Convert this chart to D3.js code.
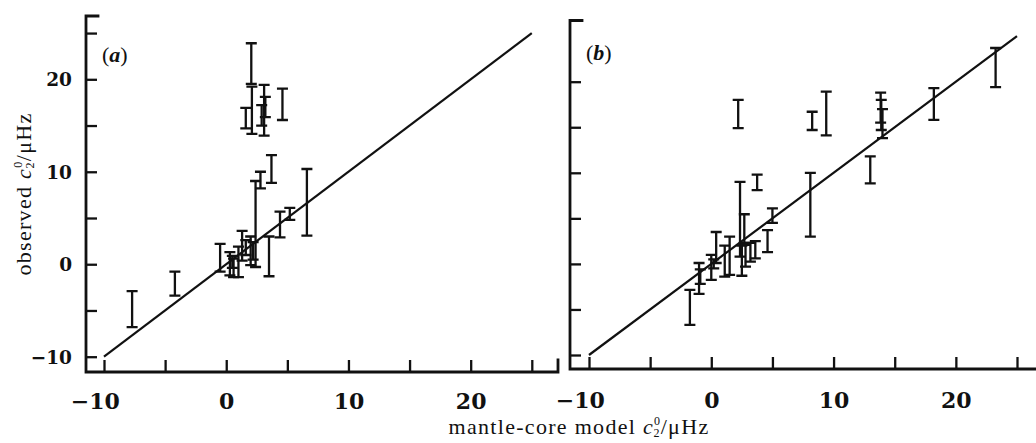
<!DOCTYPE html>
<html>
<head>
<meta charset="utf-8">
<script src="https://cdn.jsdelivr.net/npm/d3@7"></script>
<style>
  html, body { margin: 0; padding: 0; background: #fff; }
  svg { display: block; }
</style>
</head>
<body>
<svg id="chart" width="1036" height="443"></svg>
<script>
// ---------------- data ----------------
// error bars: [model c (x), observed low, observed high]
const panelABars = [
  [-7.7, -6.8, -2.9],
  [-4.2, -3.4, -0.8],
  [-0.5, -0.8, 2.2],
  [0.3, -1.2, 1.3],
  [0.5, -0.4, 0.9],
  [0.6, -1.4, 0.6],
  [1.0, -1.4, 1.9],
  [1.3, 0.4, 3.6],
  [1.6, 1.0, 2.6],
  [2.0, -0.1, 3.0],
  [2.2, 0.5, 2.4],
  [2.4, -0.3, 9.0],
  [2.8, 8.2, 10.0],
  [3.7, 8.8, 11.8],
  [3.5, -1.3, 3.0],
  [4.4, 2.9, 5.7],
  [5.2, 4.8, 6.1],
  [6.6, 3.1, 10.3],
  [2.05, 19.5, 23.9],
  [2.1, 14.1, 19.2],
  [1.6, 14.7, 16.9],
  [3.1, 13.9, 19.4],
  [3.2, 15.9, 18.1],
  [2.9, 15.0, 17.2],
  [4.6, 15.6, 19.0]
];
const panelBBars = [
  [-1.75, -6.7, -2.85],
  [-1.0, -3.3, 0.1],
  [-0.9, -2.2, -0.6],
  [0.0, -1.75, 1.0],
  [0.4, 0.1, 3.5],
  [0.2, -0.5, 0.5],
  [1.1, -1.4, 2.0],
  [1.5, -1.2, 3.0],
  [2.2, 14.9, 18.0],
  [2.35, 0.8, 9.0],
  [2.7, 2.3, 5.45],
  [2.5, -1.3, 2.0],
  [2.8, -0.3, 2.1],
  [3.2, 0.25, 2.3],
  [3.6, 0.6, 2.5],
  [3.75, 8.1, 9.8],
  [4.6, 1.3, 3.7],
  [5.0, 4.5, 6.1],
  [8.1, 3.0, 10.0],
  [8.25, 14.7, 16.7],
  [9.4, 14.1, 18.9],
  [13.0, 8.85, 11.8],
  [13.85, 15.5, 18.8],
  [13.9, 14.7, 18.0],
  [14.0, 13.8, 17.0],
  [18.2, 15.8, 19.3],
  [23.25, 19.4, 23.7]
];
// line of equality (observed = model)
const fitLine = [[-10, -10], [25, 25]];

const xTicks = [-10, -5, 0, 5, 10, 15, 20, 25];
const xTickLabels = [-10, 0, 10, 20];
const yTicksA = [-10, -5, 0, 5, 10, 15, 20, 25];
const yTicksB = [-10, -5, 0, 5, 10, 15, 20];
const yTickLabels = [-10, 0, 10, 20];
const panelNames = ["a", "b"];
const yTitle = "observed";
const xTitle = "mantle-core model";

// ---------------- layout ----------------
const svg = d3.select("#chart");
const ink = "#111";

const panels = [
  { name: panelNames[0], bars: panelABars, yTicks: yTicksA,
    x: d3.scaleLinear().domain([-10, 25]).range([104, 531.8]),
    y: d3.scaleLinear().domain([-10, 20]).range([356.7, 79.3]),
    axisX: 86, axisTop: 16, axisBottom: 372, axisRight: 558, rightCap: true,
    labelBase: 409, showYLabels: true },
  { name: panelNames[1], bars: panelBBars, yTicks: yTicksB,
    x: d3.scaleLinear().domain([-10, 25]).range([589, 1017]),
    y: d3.scaleLinear().domain([-10, 20]).range([355, 81.7]),
    axisX: 570, axisTop: 20.5, axisBottom: 369, axisRight: 1036, rightCap: false,
    labelBase: 408, showYLabels: false }
];

const fmt = v => (v < 0 ? "\u2212" + Math.abs(v) : String(v));

panels.forEach((p, i) => {
  const g = svg.append("g");

  // frame
  const frame = g.append("g").attr("stroke", ink).attr("fill", "none")
    .attr("stroke-width", 2.8).attr("stroke-linecap", "square");
  frame.append("path").attr("d",
    `M${p.axisX + 12},${p.axisTop} H${p.axisX} V${p.axisBottom} H${p.axisRight}` +
    (p.rightCap ? ` V${p.axisBottom - 12}` : ""));

  // y ticks (pointing in)
  const yAxis = d3.axisLeft(p.y).tickValues(p.yTicks).tickSizeInner(-11).tickSizeOuter(0)
    .tickPadding(14).tickFormat(d => (p.showYLabels && yTickLabels.includes(d)) ? fmt(d) : "");
  const ya = g.append("g").attr("transform", `translate(${p.axisX},0)`).call(yAxis);
  ya.select(".domain").remove();
  ya.selectAll(".tick line").attr("stroke", ink).attr("stroke-width", 2.3);
  ya.selectAll(".tick text")
    .attr("fill", ink).attr("font-family", "'DejaVu Serif', serif")
    .attr("font-weight", "bold").attr("font-size", 18.5)
    .attr("dy", "0.36em").attr("x", 72 - p.axisX);

  // x ticks (pointing up)
  const xAxis = d3.axisBottom(p.x).tickValues(xTicks).tickSizeInner(-12).tickSizeOuter(0)
    .tickFormat(d => xTickLabels.includes(d) ? fmt(d) : "");
  const xa = g.append("g").attr("transform", `translate(0,${p.axisBottom})`).call(xAxis);
  xa.select(".domain").remove();
  xa.selectAll(".tick line").attr("stroke", ink).attr("stroke-width", 2.3);
  xa.selectAll(".tick text")
    .attr("fill", ink).attr("font-family", "'DejaVu Serif', serif")
    .attr("font-weight", "bold").attr("font-size", 22)
    .attr("dy", null).attr("y", p.labelBase - p.axisBottom)
    .each(function(d) {
      // center the digits on the tick; the minus sign hangs to the left
      const t = this.textContent;
      if (t.startsWith("\u2212")) {
        const tot = this.getComputedTextLength();
        const digits = this.getSubStringLength(1, t.length - 1);
        d3.select(this).attr("text-anchor", "start").attr("x", -(tot - digits) - digits / 2);
      }
    });

  // line of equality
  g.append("path")
    .attr("d", d3.line().x(d => p.x(d[0])).y(d => p.y(d[1]))(fitLine))
    .attr("stroke", ink).attr("stroke-width", 2.2).attr("fill", "none");

  // error bars
  const eb = g.append("g").attr("stroke", ink).attr("stroke-width", 2.3).attr("fill", "none");
  const cap = 5.5;
  eb.selectAll("path").data(p.bars).join("path")
    .attr("d", d => {
      const x = p.x(d[0]), y0 = p.y(d[1]), y1 = p.y(d[2]);
      return `M${x},${y0} V${y1} M${x - cap},${y0} H${x + cap} M${x - cap},${y1} H${x + cap}`;
    });

  // panel label
  const lab = g.append("text")
    .attr("x", p.axisX + 16).attr("y", i === 0 ? 62 : 60)
    .attr("font-family", "'Liberation Serif', serif").attr("font-size", 22).attr("fill", ink);
  lab.append("tspan").text("(");
  lab.append("tspan").attr("font-style", "italic").attr("font-weight", "bold").text(p.name);
  lab.append("tspan").text(")");
});

// axis titles
function addTitle(sel, label) {
  sel.append("tspan").text(label + " ");
  sel.append("tspan").attr("font-style", "italic").text("c");
  sel.append("tspan").attr("font-size", 12).attr("dy", -9).text("0");
  sel.append("tspan").attr("font-size", 12).attr("dx", -8).attr("dy", 12).text("2");
  sel.append("tspan").attr("dy", -3).text("/\u03BCHz");
}
const yt = svg.append("text")
  .attr("transform", "translate(31,194) rotate(-90)")
  .attr("text-anchor", "middle")
  .attr("font-family", "'Liberation Serif', serif").attr("font-size", 22)
  .attr("letter-spacing", 1.3).attr("fill", ink);
addTitle(yt, yTitle);

const xt = svg.append("text")
  .attr("x", 579).attr("y", 434)
  .attr("text-anchor", "middle")
  .attr("font-family", "'Liberation Serif', serif").attr("font-size", 22)
  .attr("letter-spacing", 1.3).attr("fill", ink);
addTitle(xt, xTitle);
</script>
</body>
</html>
